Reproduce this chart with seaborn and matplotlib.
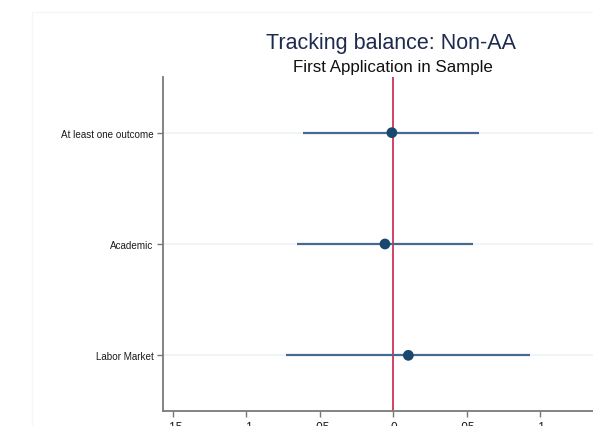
import pandas as pd
import seaborn as sns
import matplotlib.pyplot as plt
from matplotlib.patches import Rectangle

# estimates and 95% CIs
outcomes = ['At least one outcome', 'Academic', 'Labor Market']
coef = [-0.001, -0.0057, 0.0102]
ci_low = [-0.0612, -0.0657, -0.073]
ci_high = [0.0585, 0.0545, 0.093]
xticks = [-0.15, -0.1, -0.05, 0, 0.05, 0.1]
xtick_labels = ['-.15', '-.1', '-.05', '0', '.05', '.1']

df = pd.DataFrame({'outcome': outcomes, 'coef': coef, 'lo': ci_low, 'hi': ci_high})
df['pos'] = range(len(df))

sns.set_style('white')
plt.rcParams['font.family'] = ['Liberation Sans', 'DejaVu Sans']

W, H = 593, 427
fig = plt.figure(figsize=(W / 100, H / 100), dpi=100)
fig.patch.set_facecolor('white')

# very faint outer graph-region border (Stata style)
fig.patches.append(Rectangle((32 / W, -0.1), 1.2, (H - 13) / H + 0.1,
                             transform=fig.transFigure, fill=False,
                             edgecolor='#f6f6f6', lw=1.0))

ax = fig.add_axes([163.4 / W, 15 / H, (W - 163.4) / W, 334 / H])

# light horizontal grid at each coefficient
for p in df['pos']:
    ax.axhline(p, color='#eef3f4', lw=1.3, zorder=0)

ax.axvline(0, color='#c8103a', lw=1.1, zorder=1)
ax.hlines(df['pos'], df['lo'], df['hi'], color='#476a90', lw=1.6, zorder=2)
sns.scatterplot(data=df, x='coef', y='pos', ax=ax, color='#1a476f',
                s=60, edgecolor='none', zorder=3, legend=False)

ax.set_xlim(-0.1564, 0.1358)
ax.set_ylim(2.5, -0.5)
ax.set_yticks(df['pos'])
ax.set_yticklabels(outcomes, fontsize=7.1, color='#1a1a1a')
ax.set_xticks(xticks)
ax.set_xticklabels(xtick_labels, fontsize=8.5, color='#1a1a1a')
ax.set_xlabel('')
ax.set_ylabel('')

ax.tick_params(axis='both', which='both', length=4, width=1.0, color='#777777',
               direction='out', pad=3)
ax.tick_params(axis='y', left=True)
ax.tick_params(axis='x', bottom=True)
for side in ['top', 'right']:
    ax.spines[side].set_visible(False)
for side in ['left', 'bottom']:
    ax.spines[side].set_color('#7a7a7a')
    ax.spines[side].set_linewidth(1.3)

fig.text(391 / W, 1 - 49 / H, 'Tracking balance: Non-AA', ha='center', va='baseline',
         fontsize=15.5, color='#1e2b4f')
fig.text(393 / W, 1 - 72 / H, 'First Application in Sample', ha='center', va='baseline',
         fontsize=12.2, color='#111111')

fig.savefig('out.png', dpi=100)
